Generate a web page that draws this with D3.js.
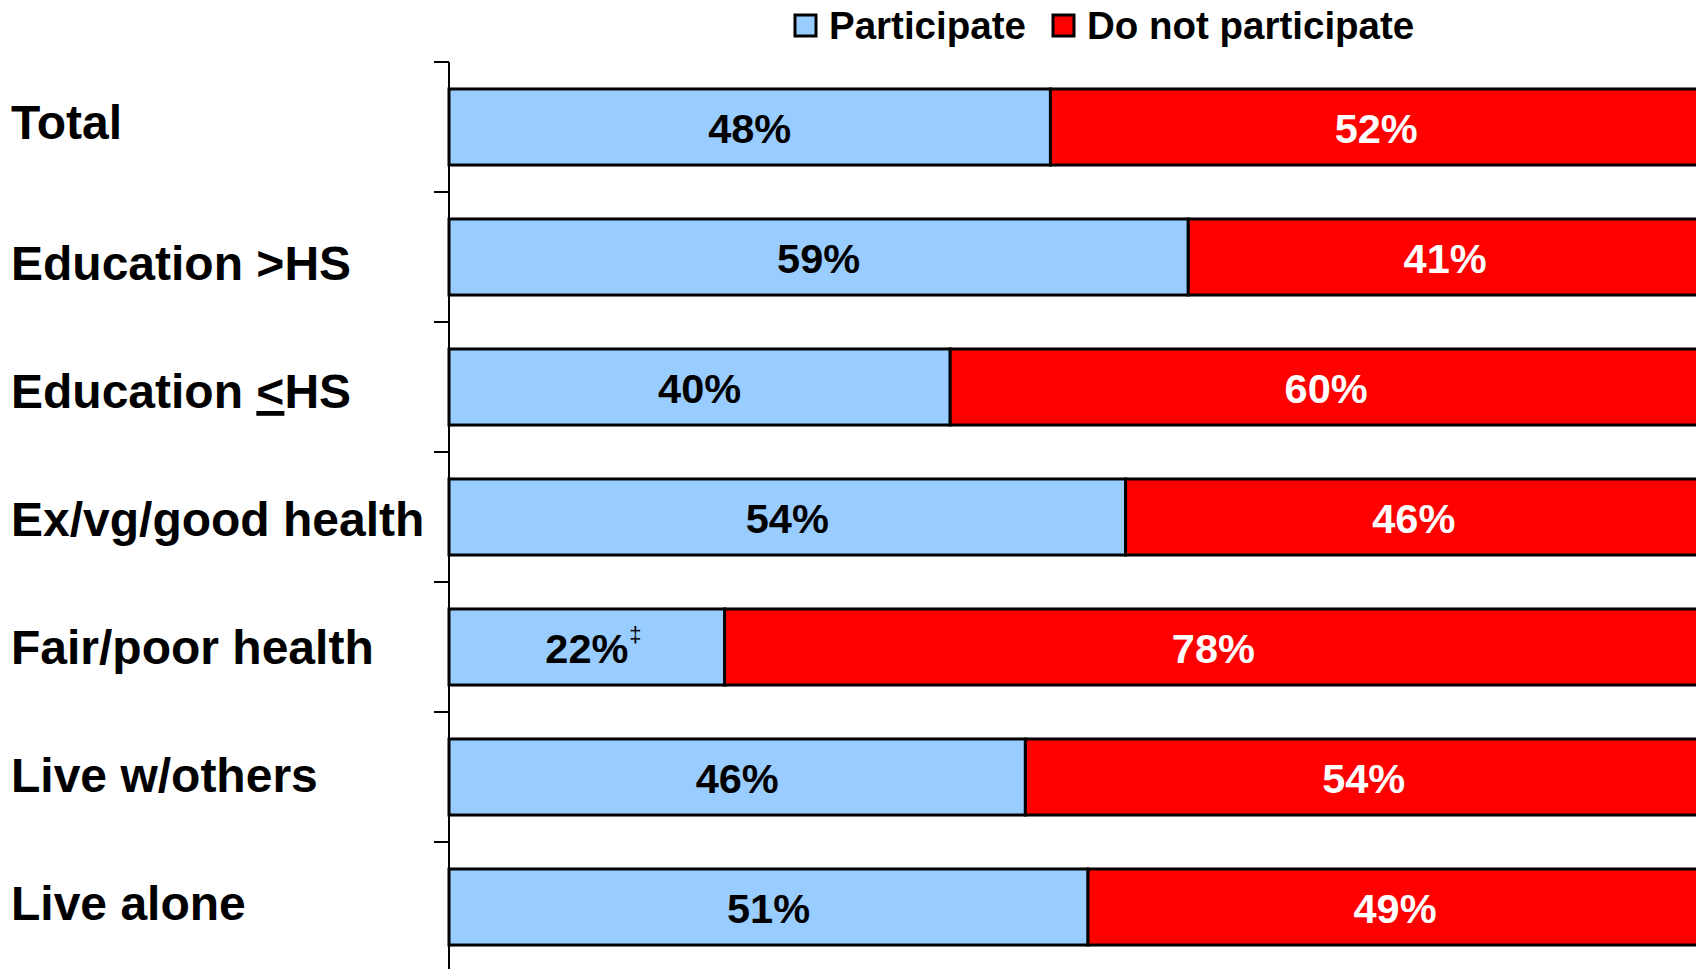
<!DOCTYPE html>
<html>
<head>
<meta charset="utf-8">
<script src="https://cdn.jsdelivr.net/npm/d3@7"></script>
<style>
  html, body { margin: 0; padding: 0; background: #fff; overflow: hidden; }
  text { font-family: "Liberation Sans", Arial, sans-serif; font-weight: bold; }
</style>
</head>
<body>
<svg id="svg1"></svg>
<script>
// data
const categories = ["Total", "Education >HS", "Education <HS", "Ex/vg/good health",
                    "Fair/poor health", "Live w/others", "Live alone"];
const participate = [48, 59, 40, 54, 22, 46, 51];
const notParticipate = [52, 41, 60, 46, 78, 54, 49];
const seriesNames = ["Participate", "Do not participate"];
const footnotes = ["", "", "", "", "\u2021", "", ""];

// layout
const width = 1696;
const height = 969;
const colors = ["#99CCFF", "#FF0000"];
const labelColors = ["#000", "#fff"];

const svg = d3.select('#svg1')
    .attr('width', width)
    .attr('height', height);

const x = d3.scaleLinear()
    .domain([0, 100])
    .range([449, 1702]);

const y = d3.scaleBand()
    .domain(categories)
    .range([62, 972])
    .paddingInner(0.415)
    .paddingOuter(0.2075);

// category text baselines (the first sits a bit higher in the original slide)
function labelY(d, i) {
  return i === 0 ? 139 : 280 + (i - 1) * 128;
}

// stack the two series
const rows = categories.map(function(c, i) {
  return {cat: c, vals: [participate[i], notParticipate[i]], note: footnotes[i]};
});
const segs = [];
rows.forEach(function(r) {
  let acc = 0;
  r.vals.forEach(function(v, k) {
    segs.push({cat: r.cat, k: k, x0: acc, x1: acc + v, v: v, note: k === 0 ? r.note : ""});
    acc += v;
  });
});

// y axis line + ticks at band boundaries
const step = y.step();
const boundaries = d3.range(categories.length + 1).map(function(i) { return 62 + i * step; });
svg.append("line")
    .attr("x1", 449).attr("x2", 449)
    .attr("y1", 62).attr("y2", 972)
    .attr("stroke", "#000").attr("stroke-width", 2);
svg.selectAll(".tick")
    .data(boundaries)
    .enter()
    .append("line")
    .attr("x1", 434).attr("x2", 449)
    .attr("y1", function(d) { return d; })
    .attr("y2", function(d) { return d; })
    .attr("stroke", "#000").attr("stroke-width", 2);

// bars
svg.selectAll(".seg")
    .data(segs)
    .enter()
    .append("rect")
    .attr("x", function(d) { return x(d.x0); })
    .attr("y", function(d) { return y(d.cat); })
    .attr("width", function(d) { return x(d.x1) - x(d.x0); })
    .attr("height", y.bandwidth())
    .attr("fill", function(d) { return colors[d.k]; })
    .attr("stroke", "#000")
    .attr("stroke-width", 3);

// value labels
svg.selectAll(".val")
    .data(segs)
    .enter()
    .append("text")
    .attr("x", function(d) { return (x(d.x0) + x(d.x1)) / 2; })
    .attr("y", function(d) { return y(d.cat) + y.bandwidth() / 2 + 16; })
    .attr("text-anchor", "middle")
    .attr("font-size", 41.5)
    .attr("fill", function(d) { return labelColors[d.k]; })
    .text(function(d) { return d.v + "%"; })
    .each(function(d) {
      if (!d.note) return;
      const w = this.getComputedTextLength();
      svg.append("text")
          .attr("x", (x(d.x0) + x(d.x1)) / 2 + w / 2 + 1)
          .attr("y", y(d.cat) + y.bandwidth() / 2 - 5)
          .attr("font-size", 22)
          .style("font-weight", "normal")
          .attr("fill", "#000")
          .text(d.note);
    });

// category labels
svg.selectAll(".cat")
    .data(categories)
    .enter()
    .append("text")
    .attr("x", 11)
    .attr("y", labelY)
    .attr("font-size", 48)
    .attr("fill", "#000")
    .each(function(d) {
      const t = d3.select(this);
      const i = d.indexOf("<");
      if (i < 0) { t.text(d); return; }
      t.append("tspan").text(d.slice(0, i));
      t.append("tspan").style("text-decoration", "underline").text("<");
      t.append("tspan").text(d.slice(i + 1));
    });

// legend
const legend = svg.append("g");
const legX = [795, 1053];
seriesNames.forEach(function(name, k) {
  legend.append("rect")
      .attr("x", legX[k]).attr("y", 15)
      .attr("width", 21).attr("height", 21)
      .attr("fill", colors[k])
      .attr("stroke", "#000").attr("stroke-width", 3);
  legend.append("text")
      .attr("x", legX[k] + 34).attr("y", 39)
      .attr("font-size", 38.5)
      .attr("fill", "#000")
      .text(name);
});
</script>
</body>
</html>
